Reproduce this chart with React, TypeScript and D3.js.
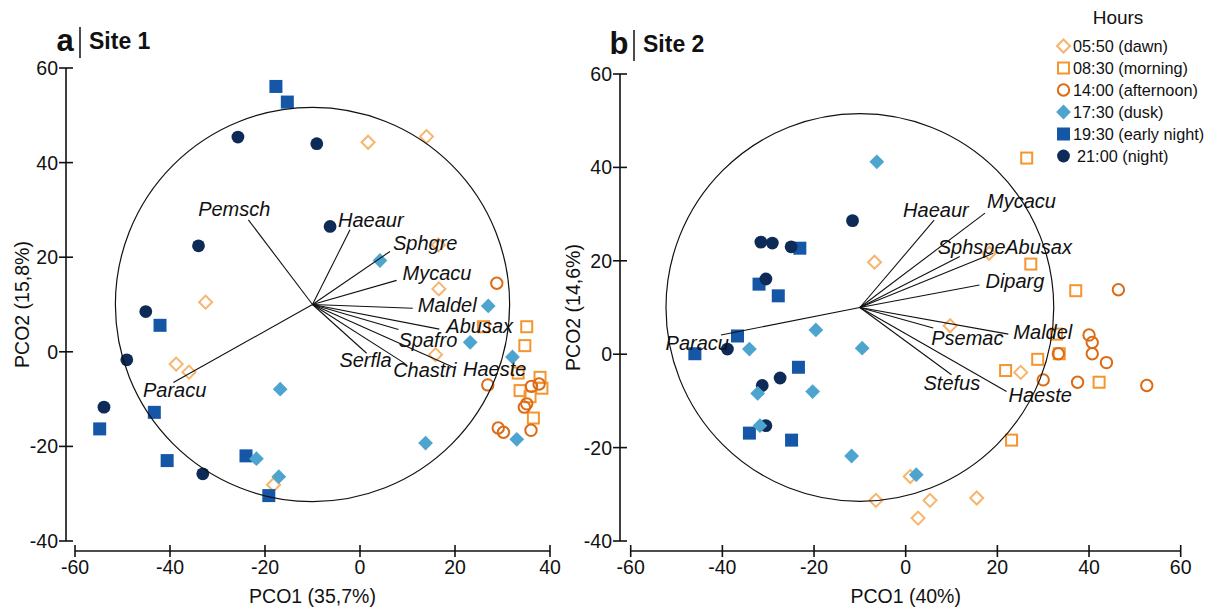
import React, { useRef, useEffect } from 'react';
import * as d3 from 'd3';

type Pt = [number, number];

const hourLabels = [
    '05:50 (dawn)',
    '08:30 (morning)',
    '14:00 (afternoon)',
    '17:30 (dusk)',
    '19:30 (early night)',
    '21:00 (night)',
];

const xTicksSite1 = [-60, -40, -20, 0, 20, 40];
const xTicksSite2 = [-60, -40, -20, 0, 20, 40, 60];
const yTicks = [-40, -20, 0, 20, 40, 60];

// Site 1 scores (PCO1, PCO2)
const site1Dawn: Pt[] = [[1.7, 44.3], [14.0, 45.5], [16.5, 22.6], [16.6, 13.3], [15.9, -0.6], [-32.5, 10.5], [-38.7, -2.6], [-36.0, -4.3], [-18.2, -28.1]];
const site1Morning: Pt[] = [[26.0, 5.3], [35.1, 5.3], [34.7, 1.3], [33.3, -4.5], [37.9, -5.4], [38.3, -7.7], [33.7, -8.2], [35.8, -9.5], [36.5, -14.0]];
const site1Afternoon: Pt[] = [[28.8, 14.5], [26.9, -7.0], [36.1, -7.3], [37.7, -6.8], [35.1, -11.0], [34.6, -11.7], [29.1, -16.1], [30.2, -17.0], [36.0, -16.6]];
const site1Dusk: Pt[] = [[4.2, 19.3], [27.0, 9.7], [23.2, 2.0], [32.1, -1.1], [-16.8, -7.9], [33.0, -18.5], [13.8, -19.3], [-21.8, -22.6], [-17.1, -26.4]];
const site1EarlyNight: Pt[] = [[-17.7, 56.1], [-15.3, 52.8], [-42.1, 5.6], [-43.3, -12.8], [-54.8, -16.3], [-40.6, -23.0], [-24.0, -22.0], [-19.2, -30.4]];
const site1Night: Pt[] = [[-25.7, 45.4], [-9.1, 44.0], [-34.0, 22.4], [-6.3, 26.5], [-45.1, 8.5], [-49.1, -1.7], [-53.9, -11.7], [-33.1, -25.8]];

// Site 2 scores
const site2Dawn: Pt[] = [[-6.8, 19.7], [18.2, 21.6], [9.7, 6.1], [25.1, -3.9], [1.0, -26.2], [-6.5, -31.3], [5.3, -31.3], [15.5, -30.8], [2.7, -35.1]];
const site2Morning: Pt[] = [[26.4, 42.0], [27.3, 19.3], [37.1, 13.6], [32.9, 4.3], [28.8, -1.1], [33.5, 0.1], [21.8, -3.5], [42.2, -6.0], [23.1, -18.4]];
const site2Afternoon: Pt[] = [[46.4, 13.8], [40.0, 4.1], [40.7, 2.5], [33.3, 0.1], [40.7, 0.1], [43.8, -1.8], [30.0, -5.5], [37.5, -6.0], [52.6, -6.7]];
const site2Dusk: Pt[] = [[-6.3, 41.2], [-19.6, 5.2], [-34.1, 1.1], [-9.5, 1.3], [-32.3, -8.4], [-20.3, -8.0], [-31.8, -15.3], [-11.8, -21.8], [2.3, -25.8]];
const site2EarlyNight: Pt[] = [[-23.1, 22.7], [-32.0, 15.0], [-27.8, 12.5], [-36.7, 3.9], [-46.0, 0.1], [-23.4, -2.8], [-34.1, -16.9], [-24.9, -18.4]];
const site2Night: Pt[] = [[-11.6, 28.6], [-31.6, 24.0], [-29.1, 23.8], [-25.0, 23.0], [-30.5, 16.1], [-38.9, 1.1], [-27.4, -5.1], [-31.3, -6.7], [-30.5, -15.3]];

// species vectors (end points, origin at circle centre)
const site1Species = ['Pemsch', 'Haeaur', 'Sphgre', 'Mycacu', 'Maldel', 'Abusax', 'Spafro', 'Serfla', 'Chastri', 'Haeste', 'Paracu'];
const site1VecX = [-23.5, -2.1, 6.3, 7.7, 11.1, 16.7, 8.1, 1.4, 9.5, 20.0, -39.3];
const site1VecY = [27.9, 25.8, 21.2, 15.1, 9.2, 4.8, 4.7, -0.3, -2.5, -3.4, -6.5];

const site2Species = ['Paracu', 'Haeaur', 'Mycacu', 'Sphspe', 'Abusax', 'Diparg', 'Maldel', 'Psemac', 'Stefus', 'Haeste'];
const site2VecX = [-40.3, 6.2, 17.3, 11.8, 19.1, 16.1, 22.4, 6.0, 10.0, 22.0];
const site2VecY = [4.1, 28.7, 30.2, 20.9, 21.6, 14.8, 4.3, 5.6, -4.4, -8.0];

const circleCentre: Pt = [-10, 10];
const site1Radius = 41.5;
const site2Radius = 42.3;

// label placement (px offsets from vector tips)
const site1LabelPos: [number, number, string][] = [
    [22, -4, 'end'], [-12, -3, 'start'], [3, -2, 'start'], [6, 0, 'start'], [5, 4, 'start'], [7, 4, 'start'],
    [0, 17, 'start'], [25, 14, 'end'], [-12, 13, 'start'], [8, 8, 'start'], [33, 14, 'end'],
];
const site2LabelPos: [number, number, string][] = [
    [8, 15, 'end'], [-31, -3, 'start'], [2, -5, 'start'], [-22, -3, 'start'], [12, 1, 'start'], [6, 3, 'start'],
    [5, 5, 'start'], [-2, 17, 'start'], [-28, 15, 'start'], [2, 10, 'start'],
];

const FONT = '"Liberation Sans", Arial, sans-serif';

const styles = [
    { shape: 'diamond', fill: 'none', stroke: '#F7B46C', size: 6.5, sw: 2 },
    { shape: 'square', fill: 'none', stroke: '#F4952F', size: 5.5, sw: 2 },
    { shape: 'circle', fill: 'none', stroke: '#DC6B15', size: 5.7, sw: 2 },
    { shape: 'diamond', fill: '#4DA5CF', stroke: 'none', size: 7.4, sw: 0 },
    { shape: 'square', fill: '#1557A6', stroke: 'none', size: 6.5, sw: 0 },
    { shape: 'circle', fill: '#0E2A56', stroke: 'none', size: 6.4, sw: 0 },
];

function marker(g: any, idx: number, x: number, y: number) {
    const s = styles[idx];
    let el;
    if (s.shape === 'circle') {
        el = g.append('circle').attr('cx', x).attr('cy', y).attr('r', s.size);
    } else if (s.shape === 'square') {
        el = g.append('rect')
            .attr('x', x - s.size).attr('y', y - s.size)
            .attr('width', s.size * 2).attr('height', s.size * 2);
    } else {
        const h = s.size;
        el = g.append('path').attr('d', `M${x},${y - h}L${x + h},${y}L${x},${y + h}L${x - h},${y}Z`);
    }
    el.attr('fill', s.fill).attr('stroke', s.stroke).attr('stroke-width', s.sw);
}

function drawPanel(svg: any, opts: any) {
    const { xDomain, xRange, yRange, xTicks, groups, species, vecX, vecY, labelPos, radius, yAxisX, xTitle, yTitle, yTitleX, letter, site, titleY } = opts;
    const x = d3.scaleLinear().domain(xDomain).range(xRange);
    const y = d3.scaleLinear().domain([-40, 60]).range(yRange);
    const axisY = 551;
    const g = svg.append('g');

    // y axis
    g.append('line').attr('x1', yAxisX).attr('x2', yAxisX)
        .attr('y1', y(60)).attr('y2', y(-40)).attr('stroke', '#111').attr('stroke-width', 1.6);
    yTicks.forEach((t) => {
        g.append('line').attr('x1', yAxisX - 7).attr('x2', yAxisX + 7)
            .attr('y1', y(t)).attr('y2', y(t)).attr('stroke', '#111').attr('stroke-width', 1.6);
        g.append('text').attr('x', yAxisX - 8).attr('y', y(t) + 7)
            .attr('text-anchor', 'end').attr('font-family', FONT).attr('font-size', 19.5)
            .attr('fill', '#111').text(t);
    });

    // x axis
    g.append('line').attr('x1', x(xDomain[0])).attr('x2', x(xDomain[1]))
        .attr('y1', axisY).attr('y2', axisY).attr('stroke', '#111').attr('stroke-width', 1.6);
    xTicks.forEach((t: number) => {
        g.append('line').attr('x1', x(t)).attr('x2', x(t))
            .attr('y1', axisY - 6).attr('y2', axisY + 6).attr('stroke', '#111').attr('stroke-width', 1.6);
        g.append('text').attr('x', x(t)).attr('y', axisY + 23)
            .attr('text-anchor', 'middle').attr('font-family', FONT).attr('font-size', 19.5)
            .attr('fill', '#111').text(t);
    });

    g.append('text').attr('x', (xRange[0] + xRange[1]) / 2).attr('y', 603)
        .attr('text-anchor', 'middle').attr('font-family', FONT).attr('font-size', 19.5)
        .attr('fill', '#111').text(xTitle);
    g.append('text')
        .attr('transform', `translate(${yTitleX},${(y(60) + y(-40)) / 2}) rotate(-90)`)
        .attr('text-anchor', 'middle').attr('font-family', FONT).attr('font-size', 19.5)
        .attr('fill', '#111').text(yTitle);

    // panel title
    g.append('text').attr('x', yAxisX - 1).attr('y', titleY + 2).attr('text-anchor', 'middle')
        .attr('font-family', FONT).attr('font-weight', 'bold').attr('font-size', 31).attr('fill', '#111').text(letter);
    g.append('line').attr('x1', yAxisX + 14).attr('x2', yAxisX + 14)
        .attr('y1', titleY - 22).attr('y2', titleY + 9).attr('stroke', '#111').attr('stroke-width', 1.5);
    g.append('text').attr('x', yAxisX + 23).attr('y', titleY)
        .attr('font-family', FONT).attr('font-weight', 'bold').attr('font-size', 23).attr('fill', '#111').text(site);

    // points
    const order = [0, 1, 2, 4, 5, 3];
    order.forEach((gi) => {
        groups[gi].forEach((p: Pt) => marker(g, gi, x(p[0]), y(p[1])));
    });

    // correlation circle
    const cx = x(circleCentre[0]);
    const cy = y(circleCentre[1]);
    const r = x(circleCentre[0] + radius) - cx;
    g.append('circle').attr('cx', cx).attr('cy', cy).attr('r', r)
        .attr('fill', 'none').attr('stroke', '#111').attr('stroke-width', 1.2);

    species.forEach((name: string, i: number) => {
        const ex = x(vecX[i]);
        const ey = y(vecY[i]);
        g.append('line').attr('x1', cx).attr('y1', cy).attr('x2', ex).attr('y2', ey)
            .attr('stroke', '#111').attr('stroke-width', 1.1);
        const [dx, dy, anchor] = labelPos[i];
        g.append('text').attr('x', ex + dx).attr('y', ey + dy).attr('text-anchor', anchor)
            .attr('font-family', FONT).attr('font-style', 'italic').attr('font-size', 20)
            .attr('fill', '#111').text(name);
    });
}

export default function App() {
    const svgRef = useRef<SVGSVGElement | null>(null);

    useEffect(() => {
        const width = 1214;
        const height = 609;
        d3.select(svgRef.current).selectAll('*').remove();
        const svg = d3.select(svgRef.current).attr('width', width).attr('height', height);
        svg.append('rect').attr('width', width).attr('height', height).attr('fill', '#fff');

        drawPanel(svg, {
            xDomain: [-60, 40], xRange: [75, 550], yRange: [541, 68], xTicks: xTicksSite1,
            groups: [site1Dawn, site1Morning, site1Afternoon, site1Dusk, site1EarlyNight, site1Night],
            species: site1Species, vecX: site1VecX, vecY: site1VecY, labelPos: site1LabelPos,
            radius: site1Radius, yAxisX: 66, xTitle: 'PCO1 (35,7%)', yTitle: 'PCO2 (15,8%)', yTitleX: 29,
            letter: 'a', site: 'Site 1', titleY: 49,
        });
        drawPanel(svg, {
            xDomain: [-60, 60], xRange: [630.7, 1180.7], yRange: [541, 74], xTicks: xTicksSite2,
            groups: [site2Dawn, site2Morning, site2Afternoon, site2Dusk, site2EarlyNight, site2Night],
            species: site2Species, vecX: site2VecX, vecY: site2VecY, labelPos: site2LabelPos,
            radius: site2Radius, yAxisX: 620, xTitle: 'PCO1 (40%)', yTitle: 'PCO2 (14,6%)', yTitleX: 580,
            letter: 'b', site: 'Site 2', titleY: 52,
        });

        // legend
        const lg = svg.append('g');
        lg.append('text').attr('x', 1118).attr('y', 24).attr('text-anchor', 'middle')
            .attr('font-family', FONT).attr('font-size', 19).attr('fill', '#111').text('Hours');
        hourLabels.forEach((label, i) => {
            const cy = 46 + i * 22;
            marker(lg, i, 1063.5, cy);
            lg.append('text').attr('x', i === 5 ? 1077 : 1073).attr('y', cy + 6)
                .attr('font-family', FONT).attr('font-size', 16.3).attr('fill', '#111').text(label);
        });
    }, []);

    return <svg ref={svgRef} style={{ position: 'absolute', left: 0, top: 0 }}></svg>;
}
